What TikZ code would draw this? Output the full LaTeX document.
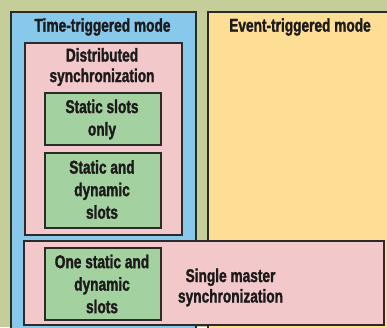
\documentclass[tikz,border=0pt]{standalone}
\usepackage{fontspec}
\newfontfamily\cond[FakeStretch=0.74,FakeBold=1.5]{Liberation Sans}
\definecolor{olive}{HTML}{C5CD99}
\definecolor{bluebg}{HTML}{88C8EA}
\definecolor{yellowbg}{HTML}{FEDE94}
\definecolor{pinkbg}{HTML}{F2C8CA}
\definecolor{greenbg}{HTML}{A3D1A0}
\definecolor{edge}{HTML}{2B2B2B}
\definecolor{ink}{HTML}{1C1A1A}
\begin{document}
\begin{tikzpicture}[x=1pt,y=-1pt,
  box/.style={draw=edge,line width=1.6pt,inner sep=0pt,anchor=north west},
  lbl/.style={text=ink,font=\cond\bfseries\fontsize{18.5}{20.5}\selectfont,align=center,inner sep=0pt},
  glbl/.style={lbl,font=\cond\bfseries\fontsize{18.5}{22.5}\selectfont}]
\useasboundingbox (0,0) rectangle (387,327);
\clip (0,0) rectangle (387,327);
\fill[olive] (0,0) rectangle (387,327);
% mode boxes
\node[box,fill=bluebg,minimum width=185pt,minimum height=340pt] (tt) at (10,11) {};
\node[box,fill=yellowbg,minimum width=200pt,minimum height=340pt] (et) at (207,11) {};
\node[lbl,anchor=base] (ttl) at (102.5,31.7) {Time-triggered mode};
\node[lbl,anchor=base] (etl) at (300,31.7) {Event-triggered mode};
% distributed synchronization
\node[box,fill=pinkbg,minimum width=157pt,minimum height=192pt] (ds) at (24,42) {};
\node[lbl] (dsl) at (102,67) {Distributed\\synchronization};
\node[box,fill=greenbg,minimum width=116pt,minimum height=52pt] (g1) at (44,92) {};
\node[glbl] (g1l) at (102,119.5) {Static slots\\only};
\node[box,fill=greenbg,minimum width=116pt,minimum height=75pt] (g2) at (44,152) {};
\node[glbl] (g2l) at (102,189.5) {Static and\\dynamic\\slots};
% single master synchronization
\node[box,fill=pinkbg,minimum width=360pt,minimum height=84pt] (sm) at (23,240) {};
\node[box,fill=greenbg,minimum width=116pt,minimum height=72pt] (g3) at (44,247) {};
\node[glbl] (g3l) at (102,284) {One static and\\dynamic\\slots};
\node[lbl] (sml) at (230.5,287.5) {Single master\\synchronization};
\end{tikzpicture}
\end{document}
